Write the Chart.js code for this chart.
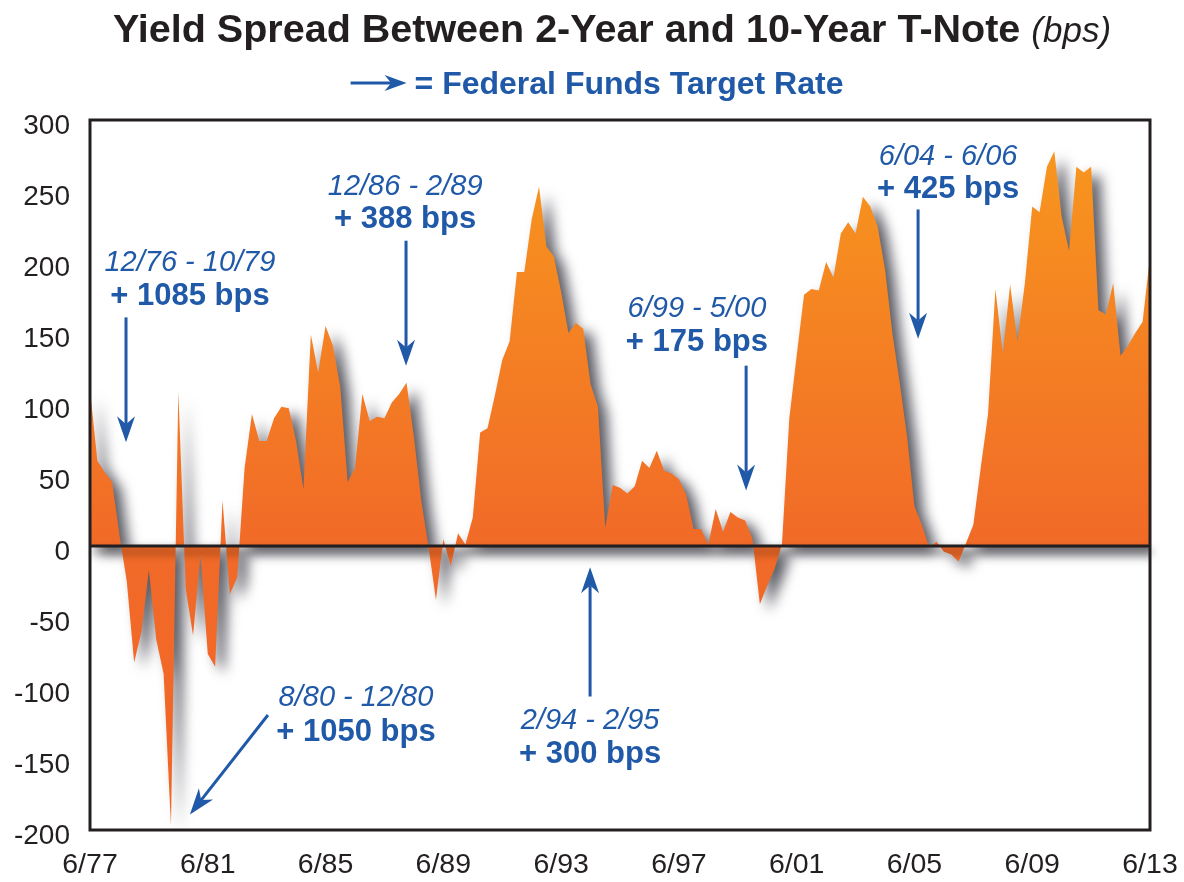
<!DOCTYPE html>
<html>
<head>
<meta charset="utf-8">
<script src="https://cdn.jsdelivr.net/npm/chart.js@4.4.1/dist/chart.umd.min.js"></script>
<style>
  html, body { margin: 0; padding: 0; background: #fff; }
  #wrap { width: 1184px; height: 882px; }
</style>
</head>
<body>
<div id="wrap"><canvas id="spreadChart" width="1184" height="882"></canvas></div>
<script>
// quarterly 10yr minus 2yr spread, bps
const dates = [
  "6/77", "9/77", "12/77", "3/78", "6/78", "9/78", "12/78", "3/79", "6/79", "9/79", "12/79",
  "3/80", "6/80", "9/80", "12/80", "3/81", "6/81", "9/81", "12/81", "3/82", "6/82", "9/82", "12/82",
  "3/83", "6/83", "9/83", "12/83", "3/84", "6/84", "9/84", "12/84", "3/85", "6/85", "9/85", "12/85",
  "3/86", "6/86", "9/86", "12/86", "3/87", "6/87", "9/87", "12/87", "3/88", "6/88", "9/88", "12/88",
  "3/89", "6/89", "9/89", "12/89", "3/90", "6/90", "9/90", "12/90", "3/91", "6/91", "9/91", "12/91",
  "3/92", "6/92", "9/92", "12/92", "3/93", "6/93", "9/93", "12/93", "3/94", "6/94", "9/94", "12/94",
  "3/95", "6/95", "9/95", "12/95", "3/96", "6/96", "9/96", "12/96", "3/97", "6/97", "9/97", "12/97",
  "3/98", "6/98", "9/98", "12/98", "3/99", "6/99", "9/99", "12/99", "3/00", "6/00", "9/00", "12/00",
  "3/01", "6/01", "9/01", "12/01", "3/02", "6/02", "9/02", "12/02", "3/03", "6/03", "9/03", "12/03",
  "3/04", "6/04", "9/04", "12/04", "3/05", "6/05", "9/05", "12/05", "3/06", "6/06", "9/06", "12/06",
  "3/07", "6/07", "9/07", "12/07", "3/08", "6/08", "9/08", "12/08", "3/09", "6/09", "9/09", "12/09",
  "3/10", "6/10", "9/10", "12/10", "3/11", "6/11", "9/11", "12/11", "3/12", "6/12", "9/12", "12/12",
  "3/13", "6/13"
];
const spread = [
  110, 60, 52, 45, 8, -25, -82, -60, -17, -66, -90,
  -197, 109, -30, -63, -6, -76, -85, 32, -34, -22, 55, 93,
  74, 74, 90, 98, 97, 74, 40, 149, 122, 155, 141, 112,
  45, 55, 107, 88, 91, 90, 101, 107, 115, 77, 32, -1,
  -38, 5, -14, 9, 1, 20, 80, 83, 106, 131, 144, 193,
  193, 230, 253, 211, 204, 179, 150, 157, 153, 114, 98, 13,
  43, 41, 37, 42, 60, 55, 67, 53, 51, 47, 36, 12,
  12, 1, 26, 10, 24, 20, 18, 5, -41, -28, -16, 1,
  90, 134, 177, 181, 180, 200, 189, 220, 228, 220, 246, 239,
  225, 195, 150, 115, 77, 28, 15, -1, 3, -4, -6, -11,
  2, 15, 55, 93, 181, 136, 184, 144, 185, 239, 235, 267,
  278, 232, 208, 267, 263, 267, 166, 163, 185, 134, 141, 150,
  158, 204
];
const tickLabels = ["6/77", "6/81", "6/85", "6/89", "6/93", "6/97", "6/01", "6/05", "6/09", "6/13"];

// fed funds tightening cycles
const hikePeriods = ["12/76 - 10/79", "12/86 - 2/89", "8/80 - 12/80", "2/94 - 2/95", "6/99 - 5/00", "6/04 - 6/06"];
const hikeSizes = ["+ 1085 bps", "+ 388 bps", "+ 1050 bps", "+ 300 bps", "+ 175 bps", "+ 425 bps"];

const Y_MIN = -200, Y_MAX = 300;
const BLUE = "#1F59A7";
const INK = "#231F20";
const FONT = '"Liberation Sans", Arial, Helvetica, sans-serif';

// where each callout sits, in axis units (year, bps)
const calloutLayout = [
  { textX: 1980.81, line1: 194, line2: 170, from: [1978.64, 161], to: [1978.64, 73] },
  { textX: 1988.12, line1: 247, line2: 224, from: [1988.15, 215], to: [1988.15, 127] },
  { textX: 1986.45, line1: -113, line2: -137, from: [1983.46, -119], to: [1980.81, -189] },
  { textX: 1994.40, line1: -129, line2: -153, from: [1994.40, -106], to: [1994.40, -15] },
  { textX: 1998.03, line1: 161, line2: 137, from: [1999.70, 127], to: [1999.70, 39] },
  { textX: 2006.56, line1: 268, line2: 245, from: [2005.54, 237], to: [2005.54, 146] }
];

function toYear(label) {
  const parts = label.split("/").map(Number);
  const yy = parts[1];
  const year = yy > 50 ? 1900 + yy : 2000 + yy;
  return year + (parts[0] - 1) / 12;
}

const points = dates.map((d, i) => ({ x: toYear(d), y: spread[i] }));

function areaFill(context) {
  const chart = context.chart;
  const { ctx, chartArea, scales } = chart;
  if (!chartArea) return "#F26B27";
  const top = scales.y.getPixelForValue(Y_MAX);
  const zero = scales.y.getPixelForValue(0);
  const bottom = scales.y.getPixelForValue(Y_MIN);
  const g = ctx.createLinearGradient(0, top, 0, bottom);
  g.addColorStop(0, "#F8991D");
  g.addColorStop((zero - top) / (bottom - top), "#F16A28");
  g.addColorStop(1, "#F26527");
  return g;
}

function drawArrow(ctx, x1, y1, x2, y2, head, half) {
  const ang = Math.atan2(y2 - y1, x2 - x1);
  const notch = head * 0.3;
  ctx.save();
  ctx.strokeStyle = BLUE;
  ctx.fillStyle = BLUE;
  ctx.lineWidth = 3;
  ctx.beginPath();
  ctx.moveTo(x1, y1);
  ctx.lineTo(x2 - Math.cos(ang) * (head - notch), y2 - Math.sin(ang) * (head - notch));
  ctx.stroke();
  ctx.translate(x2, y2);
  ctx.rotate(ang);
  ctx.beginPath();
  ctx.moveTo(0, 0);
  ctx.lineTo(-head, -half);
  ctx.lineTo(-head + notch, 0);
  ctx.lineTo(-head, half);
  ctx.closePath();
  ctx.fill();
  ctx.restore();
}

const shadowPlugin = {
  id: "areaShadow",
  beforeDatasetsDraw(chart) {
    const ctx = chart.ctx;
    ctx.save();
    ctx.shadowColor = "rgba(35,35,48,0.75)";
    ctx.shadowBlur = 13;
    ctx.shadowOffsetX = 9;
    ctx.shadowOffsetY = 7;
  },
  afterDatasetsDraw(chart) {
    chart.ctx.restore();
  }
};

const framePlugin = {
  id: "frame",
  afterDatasetsDraw(chart) {
    const { ctx, chartArea, scales } = chart;
    const y0 = scales.y.getPixelForValue(0);
    ctx.save();
    ctx.strokeStyle = INK;
    ctx.lineWidth = 3;
    ctx.shadowColor = "rgba(0,0,0,0.55)";
    ctx.shadowBlur = 8;
    ctx.shadowOffsetY = 6;
    ctx.shadowOffsetX = 3;
    ctx.beginPath();
    ctx.moveTo(chartArea.left, y0);
    ctx.lineTo(chartArea.right, y0);
    ctx.stroke();
    ctx.restore();
    ctx.save();
    ctx.strokeStyle = INK;
    ctx.lineWidth = 3;
    ctx.strokeRect(chartArea.left, chartArea.top, chartArea.right - chartArea.left, chartArea.bottom - chartArea.top);
    ctx.restore();
  }
};

const calloutPlugin = {
  id: "callouts",
  afterDraw(chart) {
    const { ctx, scales } = chart;
    const X = v => scales.x.getPixelForValue(v);
    const Y = v => scales.y.getPixelForValue(v);
    ctx.save();
    ctx.fillStyle = BLUE;
    ctx.textAlign = "center";
    ctx.textBaseline = "alphabetic";
    calloutLayout.forEach((c, i) => {
      ctx.font = "italic 29px " + FONT;
      ctx.fillText(hikePeriods[i], X(c.textX), Y(c.line1));
      ctx.font = "bold 31px " + FONT;
      ctx.fillText(hikeSizes[i], X(c.textX), Y(c.line2));
      drawArrow(ctx, X(c.from[0]), Y(c.from[1]), X(c.to[0]), Y(c.to[1]), 26, 9);
    });
    ctx.restore();
  }
};

const titlePlugin = {
  id: "headline",
  afterDraw(chart) {
    const ctx = chart.ctx;
    const main = "Yield Spread Between 2-Year and 10-Year T-Note ";
    const unit = "(bps)";
    ctx.save();
    ctx.textBaseline = "alphabetic";
    ctx.textAlign = "left";
    ctx.fillStyle = INK;
    ctx.font = "bold 39.5px " + FONT;
    const w1 = ctx.measureText(main).width;
    ctx.font = "italic 35px " + FONT;
    const w2 = ctx.measureText(unit).width;
    const x = 612 - (w1 + w2) / 2;
    ctx.font = "bold 39.5px " + FONT;
    ctx.fillText(main, x, 42);
    ctx.font = "italic 35px " + FONT;
    ctx.fillText(unit, x + w1, 42);

    // legend: arrow = Federal Funds Target Rate
    const legendText = "= Federal Funds Target Rate";
    ctx.font = "bold 32px " + FONT;
    const lw = ctx.measureText(legendText).width;
    const arrowW = 56, gap = 8;
    const lx = 597 - (arrowW + gap + lw) / 2;
    drawArrow(ctx, lx, 83, lx + arrowW, 83, 22, 8);
    ctx.fillStyle = BLUE;
    ctx.fillText(legendText, lx + arrowW + gap, 94);
    ctx.restore();
  }
};

Chart.defaults.font.family = FONT;

new Chart(document.getElementById("spreadChart"), {
  type: "line",
  data: {
    datasets: [{
      data: points,
      fill: "origin",
      backgroundColor: areaFill,
      borderWidth: 0,
      pointRadius: 0,
      tension: 0
    }]
  },
  options: {
    responsive: false,
    animation: false,
    devicePixelRatio: 1,
    layout: { padding: { top: 120, right: 34, bottom: 0, left: 0 } },
    plugins: {
      legend: { display: false },
      tooltip: { enabled: false },
      title: { display: false }
    },
    scales: {
      x: {
        type: "linear",
        min: toYear(tickLabels[0]),
        max: toYear(tickLabels[tickLabels.length - 1]),
        grid: { display: false, drawTicks: false },
        border: { display: false },
        afterBuildTicks: axis => {
          axis.ticks = tickLabels.map(l => ({ value: toYear(l) }));
        },
        afterFit: axis => {
          axis.height = 52;
          axis.paddingLeft = 0;
          axis.paddingRight = 0;
        },
        ticks: {
          autoSkip: false,
          maxRotation: 0,
          padding: 18,
          color: INK,
          font: { size: 28.5 },
          callback: (value, index) => tickLabels[index]
        }
      },
      y: {
        min: Y_MIN,
        max: Y_MAX,
        grid: { display: false, drawTicks: false },
        border: { display: false },
        afterFit: axis => {
          axis.width = 90;
          axis.paddingTop = 0;
          axis.paddingBottom = 0;
        },
        ticks: {
          stepSize: 50,
          padding: 20,
          labelOffset: 6,
          color: INK,
          font: { size: 28 }
        }
      }
    }
  },
  plugins: [shadowPlugin, framePlugin, calloutPlugin, titlePlugin]
});
</script>
</body>
</html>
